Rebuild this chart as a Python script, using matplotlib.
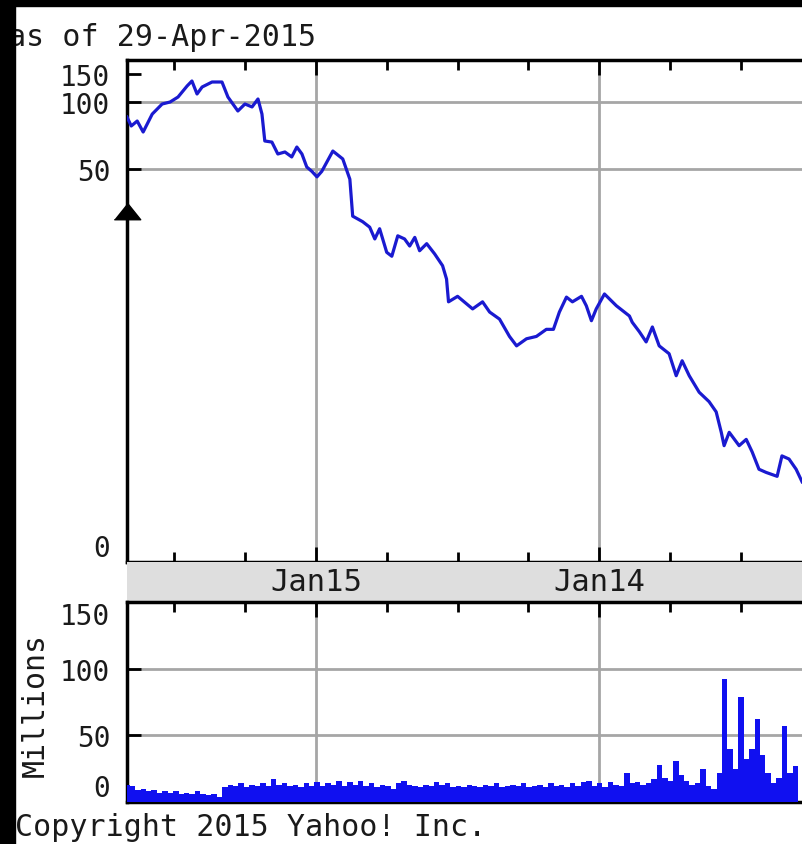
import matplotlib
matplotlib.use('Agg')
import matplotlib.pyplot as plt
from matplotlib.patches import Rectangle
import numpy as np

# closing price (decimal year, newest first)
price_t = [2015.666, 2015.651, 2015.630, 2015.609, 2015.577, 2015.542, 2015.514, 2015.486, 2015.454, 2015.437,
           2015.419, 2015.401, 2015.366, 2015.331, 2015.310, 2015.275, 2015.250, 2015.225, 2015.204, 2015.190,
           2015.180, 2015.155, 2015.134, 2015.109, 2015.085, 2015.067, 2015.049, 2015.032, 2015.014, 2014.996,
           2014.979, 2014.940, 2014.905, 2014.880, 2014.870, 2014.835, 2014.810, 2014.792, 2014.775, 2014.750,
           2014.732, 2014.711, 2014.687, 2014.669, 2014.651, 2014.634, 2014.609, 2014.581, 2014.553, 2014.539,
           2014.532, 2014.500, 2014.447, 2014.412, 2014.387, 2014.352, 2014.317, 2014.292, 2014.257, 2014.222,
           2014.187, 2014.162, 2014.141, 2014.116, 2014.095, 2014.063, 2014.046, 2014.028, 2014.011, 2013.982,
           2013.940, 2013.894, 2013.884, 2013.859, 2013.835, 2013.813, 2013.789, 2013.754, 2013.729, 2013.708,
           2013.683, 2013.648, 2013.613, 2013.588, 2013.570, 2013.560, 2013.542, 2013.507, 2013.482, 2013.461,
           2013.437, 2013.412, 2013.373, 2013.356, 2013.331, 2013.306, 2013.285]
price_v = [88.8, 82.1, 85.8, 77.6, 91.0, 98.5, 100.0, 108.9, 128.6, 137.5,
           114.3, 126.8, 135.7, 135.7, 108.9, 93.3, 98.5, 96.3, 105.4, 91.0,
           70.9, 70.1, 61.2, 62.7, 59.0, 66.4, 61.2, 51.5, 49.7, 49.0,
           49.7, 63.4, 57.5, 48.7, 44.0, 43.3, 42.6, 41.1, 42.4, 39.4,
           38.9, 41.5, 41.1, 40.2, 41.3, 39.6, 40.5, 39.2, 37.7, 36.0,
           33.1, 33.8, 32.2, 33.1, 31.8, 30.9, 28.7, 27.5, 28.4, 28.7,
           29.6, 29.6, 31.8, 33.7, 33.1, 33.8, 32.6, 30.7, 32.2, 34.1,
           32.6, 31.3, 30.5, 29.3, 28.0, 29.9, 27.5, 26.5, 23.7, 25.6,
           23.7, 21.6, 20.4, 19.1, 16.5, 14.8, 16.5, 14.8, 15.6, 14.0,
           11.8, 11.4, 10.9, 13.5, 13.1, 11.8, 10.2]

# weekly volume in millions, newest first
vol_start = 2015.666
vol_step = 7 / 365.25
vol_m = [13, 12, 9, 10, 8, 9, 7, 8, 7, 8,
         6, 7, 6, 8, 6, 5, 6, 4, 11, 13,
         12, 14, 11, 13, 12, 14, 12, 17, 13, 14,
         12, 13, 11, 14, 12, 15, 12, 14, 13, 16,
         12, 15, 13, 16, 12, 14, 11, 13, 12, 10,
         14, 16, 13, 12, 11, 13, 12, 15, 13, 14,
         11, 12, 11, 13, 12, 11, 13, 12, 14, 11,
         12, 13, 12, 14, 11, 12, 13, 11, 14, 12,
         13, 11, 14, 12, 15, 16, 12, 14, 11, 15,
         13, 12, 22, 14, 15, 13, 14, 17, 28, 18,
         16, 31, 20, 16, 13, 14, 25, 12, 10, 22,
         92, 40, 25, 79, 32, 40, 62, 35, 22, 14,
         18, 57, 22, 27]
vol_t = vol_start - vol_step * np.arange(len(vol_m))

marker_val = 44.7          # current-level arrow on the price axis
year_ticks = [2015, 2014]
year_labels = ['Jan15', 'Jan14']
quarter_ticks = [2015.5, 2015.25, 2014.75, 2014.5, 2014.25, 2013.75, 2013.5, 2013.25]

FONT = 'DejaVu Sans Mono'
TXT = '#1a1a1a'
GRID = '#a6a6a6'
plt.rcParams['font.family'] = FONT

W, H = 803, 845
fig = plt.figure(figsize=(W / 100, H / 100), dpi=100)
fig.patch.set_facecolor('white')

def box(x0, y0, x1, y1):
    return [x0 / W, 1 - y1 / H, (x1 - x0) / W, (y1 - y0) / H]

ax1 = fig.add_axes(box(127, 61, 812, 563))
band = fig.add_axes(box(127, 563, 812, 603), sharex=ax1)
ax2 = fig.add_axes(box(127, 603, 812, 803), sharex=ax1)

# compressed price scale (like the yahoo chart)
lvl = [0, 50, 100, 150, 175]
pos = [0, 393, 460, 488, 502]
def fwd(v):
    return np.interp(v, lvl, pos)
def inv(p):
    return np.interp(p, pos, lvl)
ax1.set_yscale('function', functions=(fwd, inv))
ax1.set_ylim(0, 175)
ax1.set_xlim(2015.666, 2013.253)

for a in (ax1, ax2):
    for yy in (50, 100):
        a.axhline(yy, color=GRID, lw=2, zorder=0)
    for xx in year_ticks:
        a.axvline(xx, color=GRID, lw=2, zorder=0)
    a.spines['right'].set_visible(False)
    for s in ('left', 'top', 'bottom'):
        a.spines[s].set_linewidth(2.5)
        a.spines[s].set_color('black')

ax1.plot(price_t, price_v, color='#1a1ad0', lw=2.3, zorder=3)
ax1.plot([price_t[0]], [marker_val], marker=[(-1.6, -1), (1.6, -1), (0, 1)], ms=19,
         color='black', clip_on=False, zorder=5)

ax2.bar(vol_t, vol_m, width=vol_step, color='#1010f0', linewidth=0, zorder=3)
ax2.set_ylim(0, 150)

for a in (ax1, ax2):
    a.set_xticks(year_ticks)
    a.set_xticks(quarter_ticks, minor=True)
    a.set_yticks([0, 50, 100, 150], labels=['0', '50', '100', '150'])
    a.tick_params(axis='y', direction='in', length=10, width=2, pad=12,
                  labelsize=20, labelcolor=TXT, right=False)
    a.tick_params(axis='x', which='major', direction='in', length=11, width=2)
    a.tick_params(axis='x', which='minor', direction='in', length=7, width=2)

ax1.tick_params(axis='x', which='both', top=True, bottom=True, labelbottom=False)
ax2.tick_params(axis='x', which='both', top=True, bottom=False, labelbottom=False)

ticks1 = ax1.yaxis.get_major_ticks()
ticks1[0].label1.set_va('bottom')
ticks2 = ax2.yaxis.get_major_ticks()
ticks2[0].label1.set_va('bottom')
ticks2[-1].label1.set_va('top')

band.set_facecolor('#dedede')
band.set_ylim(0, 1)
for s in band.spines.values():
    s.set_visible(False)
band.tick_params(which='both', left=False, bottom=False, top=False,
                 labelleft=False, labelbottom=False)
for xx, lab in zip(year_ticks, year_labels):
    band.text(xx, 0.5, lab, transform=band.get_xaxis_transform(), ha='center',
              va='center', fontsize=22, color=TXT)

fig.text(35 / W, 1 - 705 / H, 'Millions', rotation=90, ha='center', va='center',
         fontsize=21.5, color=TXT)
fig.text(8 / W, 1 - 38 / H, 'as of 29-Apr-2015', ha='left', va='center',
         fontsize=21.6, color=TXT)
fig.text(15 / W, 1 - 828 / H, 'Copyright 2015 Yahoo! Inc.', ha='left', va='center',
         fontsize=21.6, color=TXT)

# black frame strips (left and top)
fig.add_artist(Rectangle((0, 0), 15 / W, 1, transform=fig.transFigure,
                         color='black', zorder=20))
fig.add_artist(Rectangle((0, 1 - 7 / H), 1, 7 / H, transform=fig.transFigure,
                         color='black', zorder=20))

fig.savefig('out.png', dpi=100)
